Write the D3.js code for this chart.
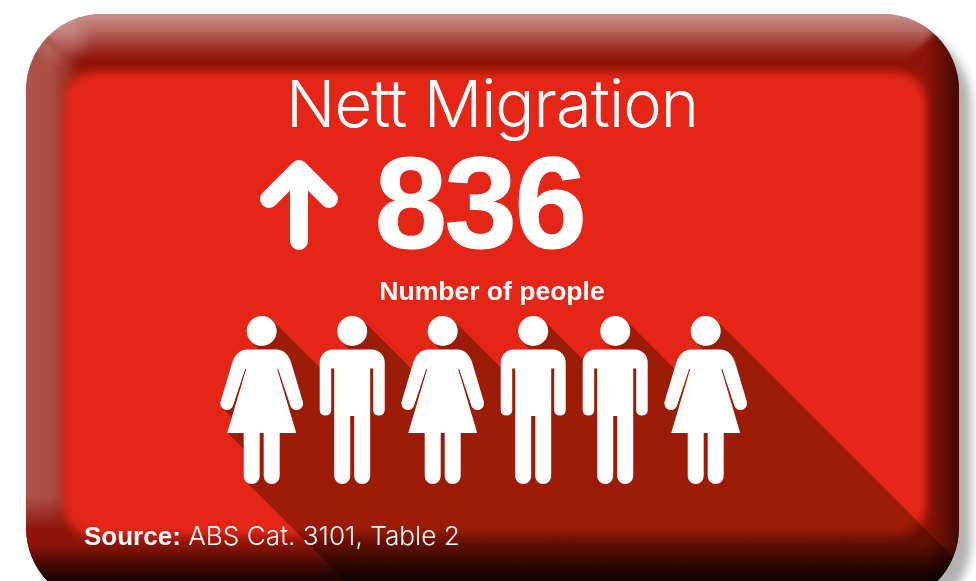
<!DOCTYPE html>
<html><head><meta charset="utf-8">
<style>html,body{margin:0;padding:0;background:#fff;overflow:hidden}svg{display:block}</style>
<script src="https://cdn.jsdelivr.net/npm/d3@7/dist/d3.min.js"></script>
</head><body><div id="c"></div>
<script>
const titleText = "Nett Migration";
const netMigration = 836;
const unitLabel = "Number of people";
const sourceBold = "Source:";
const sourceRest = " ABS Cat. 3101, Table 2";
const figures = ["woman","man","woman","man","man","woman"];
const figureWidth = {woman:82, man:65};
const figureGap = 17;

const W=976,H=581;
const svg=d3.select("#c").append("svg").attr("width",W).attr("height",H);
const defs=svg.append("defs");
const P={x:26,y:14,w:933,h:590,r:76};

function lin(id,x1,y1,x2,y2,stops){
  const g=defs.append("linearGradient").attr("id",id).attr("gradientUnits","userSpaceOnUse")
    .attr("x1",x1).attr("y1",y1).attr("x2",x2).attr("y2",y2);
  stops.forEach(s=>g.append("stop").attr("offset",s[0]).attr("stop-color",s[1]).attr("stop-opacity",s[2]));
}
function blur(id,sd){defs.append("filter").attr("id",id).attr("x","-20%").attr("y","-20%").attr("width","140%").attr("height","140%")
  .append("feGaussianBlur").attr("stdDeviation",sd);}
blur("b7",7);blur("b5",5);blur("b4",4);blur("b2",2.5);
defs.append("clipPath").attr("id","panel").append("rect").attr("x",P.x).attr("y",P.y).attr("width",P.w).attr("height",P.h).attr("rx",P.r);
lin("gTop",0,14,0,60,[[0,"#fff",.53],[.35,"#fff",.36],[.7,"#fff",.14],[1,"#fff",0]]);
lin("gLeft",26,0,70,0,[[0,"#fff",.27],[.6,"#fff",.25],[1,"#fff",.1]]);
lin("gRight",924,0,959,0,[[0,"#000",0],[1,"#000",.55]]);
lin("gBottom",0,544,0,576,[[0,"#000",0],[.5,"#000",.42],[1,"#000",.78]]);
lin("gFade",0,496,0,530,[[0,"#8f1408",0],[1,"#8f1408",1]]);

// outer shadow
svg.append("rect").attr("x",P.x+12).attr("y",P.y+14).attr("width",P.w).attr("height",P.h).attr("rx",P.r)
  .attr("fill","#000").attr("opacity",.3).attr("filter","url(#b5)");

// panel and bevel
const panel=svg.append("g").attr("clip-path","url(#panel)");
panel.append("rect").attr("width",W).attr("height",H).attr("fill","#8f1408");
panel.append("path").attr("d","M16,14L76,66L76,540L16,540Z").attr("fill","url(#gLeft)").attr("filter","url(#b4)");
panel.append("rect").attr("x",0).attr("y",496).attr("width",100).attr("height",85).attr("fill","url(#gFade)");
panel.append("path").attr("d","M16,4L968,4L900,64L76,64Z").attr("fill","url(#gTop)").attr("filter","url(#b2)");
panel.append("ellipse").attr("cx",62).attr("cy",38).attr("rx",24).attr("ry",20).attr("fill","#fff").attr("opacity",.2).attr("filter","url(#b7)");
panel.append("rect").attr("x",64).attr("y",72).attr("width",862).attr("height",464).attr("rx",30).attr("fill","#e52713").attr("filter","url(#b5)");
panel.append("rect").attr("x",924).attr("y",0).attr("width",40).attr("height",H).attr("fill","url(#gRight)");
panel.append("rect").attr("x",0).attr("y",544).attr("width",W).attr("height",40).attr("fill","url(#gBottom)");

// figures
const shapes={
 woman:"M-15,33.5L15,33.5C21,33.5 27.5,38 30.2,49L41.2,86.1A6.5,6.5 0 0 1 28.8,89.9L16.5,53L15.5,53L34.5,117L18,117L18,160A8,8 0 0 1 2,160L2,117L-2,117L-2,160A8,8 0 0 1 -18,160L-18,117L-34.5,117L-15.5,53L-16.5,53L-28.8,89.9A6.5,6.5 0 0 1 -41.2,86.1L-30.2,49C-27.5,38 -21,33.5 -15,33.5Z",
 man:"M-19.5,33.5L19.5,33.5A13,13 0 0 1 32.5,46.5L32.5,94.5A5.8,5.8 0 0 1 21,94.5L21,52.5L18,52.5L18,160A8,8 0 0 1 2,160L2,100L-2,100L-2,160A8,8 0 0 1 -18,160L-18,52.5L-21,52.5L-21,94.5A5.8,5.8 0 0 1 -32.5,94.5L-32.5,46.5A13,13 0 0 1 -19.5,33.5Z"
};
const headR=15, headY=15, figTop=316;
const total=d3.sum(figures,f=>figureWidth[f])+figureGap*(figures.length-1);
const xScale=d3.scaleLinear().domain([0,total]).range([220.7,220.7+total]);
let cum=0;
const placed=figures.map(f=>{const c=cum+figureWidth[f]/2;cum+=figureWidth[f]+figureGap;return {kind:f,x:xScale(c)};});

Object.keys(shapes).forEach(k=>{
  const s=defs.append("g").attr("id","fig-"+k);
  s.append("circle").attr("cx",0).attr("cy",headY).attr("r",headR);
  s.append("path").attr("d",shapes[k]);
});
// long shadow: the figure swept along the diagonal, multiplied onto the panel
const sh=svg.append("g").attr("clip-path","url(#panel)").style("mix-blend-mode","multiply").attr("fill","#aeb64c");
placed.forEach(p=>{
  d3.range(0,300).forEach(i=>{
    sh.append("use").attr("href","#fig-"+p.kind).attr("transform",`translate(${p.x+i},${figTop+i})`);
  });
});
svg.append("g").attr("fill","#fff").selectAll("use").data(placed).join("use")
  .attr("href",d=>"#fig-"+d.kind).attr("transform",d=>`translate(${d.x},${figTop})`);

// arrow
const stroke=svg.append("g").attr("fill","none").attr("stroke","#fff").attr("stroke-width",18).attr("stroke-linecap","round").attr("stroke-linejoin","round");
stroke.append("path").attr("d","M299,241L299,170M269,199L299,169L329,199");

// text
const light="Inter, 'Open Sans', sans-serif";
const bold="'Liberation Sans', Arial, sans-serif";
svg.append("text").attr("x",492).attr("y",127).attr("text-anchor","middle").attr("fill","#fff")
  .attr("font-family",light).attr("font-weight",300).attr("font-size",65).attr("letter-spacing",-1).text(titleText);
svg.append("text").attr("x",479.5).attr("y",248).attr("text-anchor","middle").attr("fill","#fff").attr("stroke","#fff").attr("stroke-width",1.2)
  .attr("font-family",bold).attr("font-weight",700).attr("font-size",130).attr("letter-spacing",-2.5).text(netMigration);
svg.append("text").attr("x",492).attr("y",300).attr("text-anchor","middle").attr("fill","#fff")
  .attr("font-family",bold).attr("font-weight",700).attr("font-size",26.5).text(unitLabel);
const src=svg.append("text").attr("x",84).attr("y",545).attr("fill","#fff").style("white-space","pre");
src.append("tspan").attr("font-family",bold).attr("font-weight",700).attr("font-size",26).text(sourceBold);
src.append("tspan").attr("font-family",light).attr("font-weight",300).attr("font-size",26.2).text(sourceRest);
</script></body></html>
